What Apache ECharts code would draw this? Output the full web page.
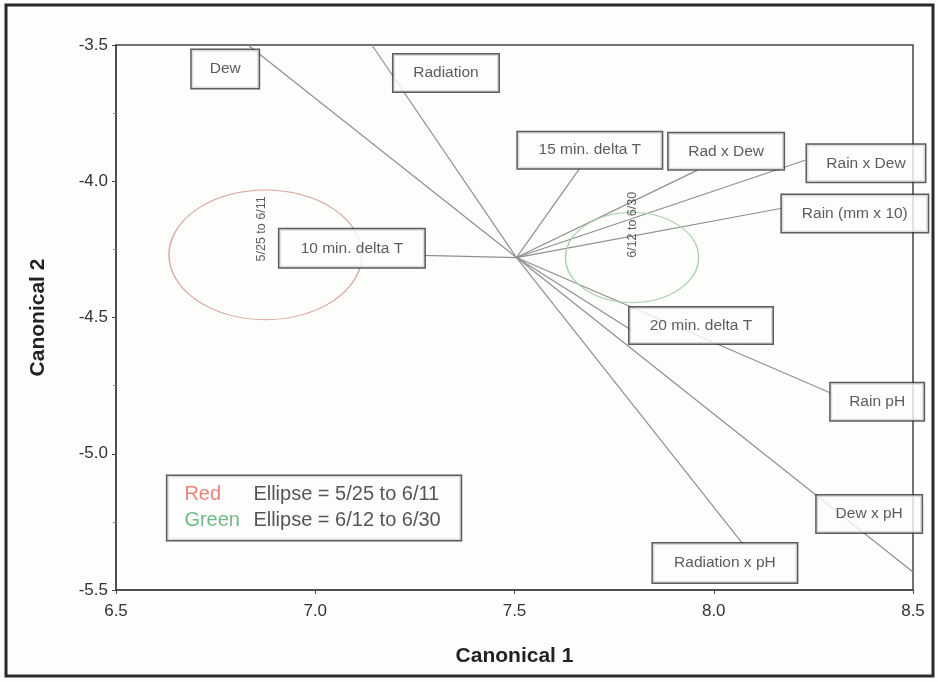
<!DOCTYPE html>
<html><head><meta charset="utf-8">
<style>html,body{margin:0;padding:0;background:#fdfdfc;}#c{width:938px;height:682px;}</style>
<script src="https://cdn.jsdelivr.net/npm/echarts@6/dist/echarts.min.js"></script>
</head><body><div id="c"></div>
<script>
// ---- data ----
const rayOrigin = [7.505, -4.28];
const variables = ['Dew','Radiation','15 min. delta T','Rad x Dew','Rain x Dew','Rain (mm x 10)','10 min. delta T','20 min. delta T','Rain pH','Dew x pH','Radiation x pH'];
const rayEndX = [6.831, 7.142, 7.664, 7.958, 8.229, 8.171, 7.270, 7.795, 8.292, 8.5, 8.073];
const rayEndY = [-3.5, -3.5, -3.952, -3.960, -3.923, -4.099, -4.272, -4.548, -4.776, -5.434, -5.331];
const ellipseNames = ['5/25 to 6/11', '6/12 to 6/30'];
const ellipseCX = [6.875, 7.795];
const ellipseCY = [-4.27, -4.28];
const ellipseRX = [0.242, 0.167];
const ellipseRY = [0.238, 0.165];
const xTicks = [6.5, 7.0, 7.5, 8.0, 8.5];
const yTicks = [-5.5, -5.0, -4.5, -4.0, -3.5];

// ---- layout (label boxes, in axis units; box sizes in px) ----
const boxX = [6.774, 7.328, 7.689, 8.031, 8.382, 8.354, 7.092, 7.968, 8.410, 8.390, 8.028];
const boxY = [-3.588, -3.603, -3.886, -3.890, -3.934, -4.118, -4.246, -4.529, -4.809, -5.221, -5.401];
const boxW = [67, 105, 144, 115, 118, 146, 145, 143, 93, 105, 144];
const boxH = [38, 37, 36, 36, 37, 37, 38, 36, 37, 37, 39];
const ellipseLabelX = [6.866, 7.797];
const ellipseLabelY = [-4.175, -4.16];
const legendAnchor = [6.997, -5.199];
const ellipseColors = ['#d9a3a3', '#a9cfae'];

const FONT = '"Liberation Sans", Arial, sans-serif';

const chart = echarts.init(document.getElementById('c'), null, {renderer: 'canvas'});

const rayLines = variables.map((v, i) => ({coords: [rayOrigin, [rayEndX[i], rayEndY[i]]]}));
const boxes = variables.map((v, i) => ({
  name: v, value: [boxX[i], boxY[i]],
  label: {width: boxW[i], height: boxH[i], lineHeight: boxH[i]}
}));
const ellipseData = ellipseNames.map((n, i) => [ellipseCX[i], ellipseCY[i], ellipseRX[i], ellipseRY[i], i]);

chart.setOption({
  backgroundColor: '#fdfdfc',
  animation: false,
  grid: {left: 116, right: 25, top: 45, bottom: 92, show: true, borderColor: '#444', borderWidth: 1.5, backgroundColor: 'transparent'},
  xAxis: {
    type: 'value', min: 6.5, max: 8.5, interval: 0.5,
    name: 'Canonical 1', nameLocation: 'middle', nameGap: 56,
    nameTextStyle: {fontFamily: FONT, fontSize: 21, fontWeight: 'bold', color: '#222'},
    axisLine: {show: true, lineStyle: {color: '#444', width: 1.5}},
    axisTick: {show: true, length: 4, lineStyle: {color: '#444'}},
    splitLine: {show: false},
    axisLabel: {fontFamily: FONT, fontSize: 17, color: '#333', margin: 13,
      formatter: v => v.toFixed(1)}
  },
  yAxis: {
    type: 'value', min: -5.5, max: -3.5, interval: 0.5,
    name: 'Canonical 2', nameLocation: 'middle', nameGap: 67, nameRotate: 90,
    nameTextStyle: {fontFamily: FONT, fontSize: 21, fontWeight: 'bold', color: '#222'},
    axisLine: {show: true, lineStyle: {color: '#444', width: 1.5}},
    axisTick: {show: true, length: 4, lineStyle: {color: '#444'}},
    minorTick: {show: true, splitNumber: 2, length: 3, lineStyle: {color: '#888'}},
    splitLine: {show: false},
    axisLabel: {fontFamily: FONT, fontSize: 17, color: '#333', margin: 8,
      formatter: v => v.toFixed(1)}
  },
  graphic: [{
    type: 'rect', shape: {x: 6, y: 5, width: 927, height: 671},
    style: {fill: 'none', stroke: '#2a2a2a', lineWidth: 3}, z: 100, silent: true
  }],
  series: [
    {
      type: 'lines', coordinateSystem: 'cartesian2d', z: 2, silent: true,
      lineStyle: {color: '#8f8f8f', width: 1.2, opacity: 1},
      data: rayLines
    },
    {
      type: 'custom', z: 3, silent: true,
      data: ellipseData,
      renderItem: function (params, api) {
        const c = api.coord([api.value(0), api.value(1)]);
        const s = api.size([api.value(2), api.value(3)]);
        const idx = api.value(4);
        return {
          type: 'circle', x: c[0], y: c[1], scaleY: s[1] / s[0],
          shape: {cx: 0, cy: 0, r: s[0]},
          style: {fill: 'none', stroke: ellipseColors[idx], lineWidth: 1.4, strokeNoScale: true}
        };
      }
    },
    {
      type: 'scatter', z: 4, symbolSize: 0, silent: true,
      data: ellipseNames.map((n, i) => ({name: n, value: [ellipseLabelX[i], ellipseLabelY[i]]})),
      label: {show: true, position: 'inside', rotate: 90, formatter: '{b}',
        fontFamily: FONT, fontSize: 12.5, color: '#333'}
    },
    {
      type: 'scatter', z: 10, symbolSize: 0, silent: true,
      data: boxes,
      label: {show: true, position: 'inside', formatter: '{b}', align: 'center', verticalAlign: 'middle',
        fontFamily: FONT, fontSize: 15.5, color: '#333',
        backgroundColor: '#fdfdfc', borderColor: '#333', borderWidth: 1.5, padding: 0}
    },
    {
      type: 'scatter', z: 10, symbolSize: 0, silent: true,
      data: [{name: 'legend', value: legendAnchor}],
      label: {show: true, position: 'inside',
        formatter: '{r|Red}{t|Ellipse = ' + ellipseNames[0] + '}\n{g|Green}{t|Ellipse = ' + ellipseNames[1] + '}',
        backgroundColor: '#fdfdfc', borderColor: '#333', borderWidth: 1.5,
        padding: [6, 20, 6, 17],
        rich: {
          r: {fontFamily: FONT, fontSize: 20, color: '#e3675a', width: 69, lineHeight: 26, align: 'left'},
          g: {fontFamily: FONT, fontSize: 20, color: '#4aab66', width: 69, lineHeight: 26, align: 'left'},
          t: {fontFamily: FONT, fontSize: 20, color: '#2a2a2a', lineHeight: 26, align: 'left'}
        }
      }
    }
  ]
});
</script></body></html>
